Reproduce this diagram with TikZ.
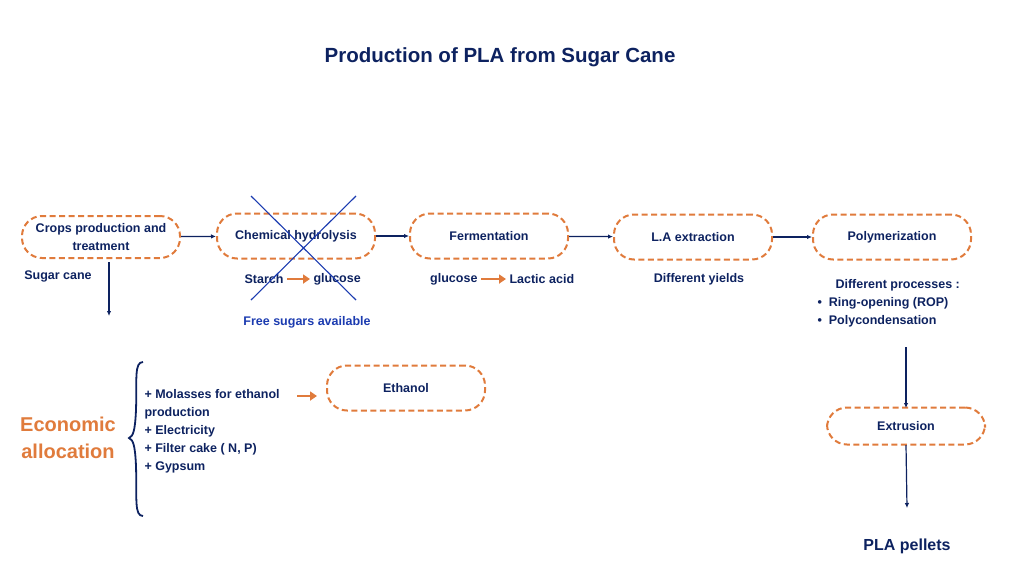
\documentclass[tikz,border=0pt]{standalone}
\usepackage{fontspec}
\setmainfont{Liberation Sans}
\usetikzlibrary{arrows.meta}
\definecolor{navy}{HTML}{0D2260}
\definecolor{org}{HTML}{E07B3C}
\definecolor{blu}{HTML}{1B3BB0}
\begin{document}
\begin{tikzpicture}[x=1pt,y=-1pt,
  proc/.style={draw=org,dashed,dash pattern=on 6pt off 3.5pt,line width=2pt,rounded corners=20pt,minimum width=158pt,minimum height=42pt,align=center,text=navy,font=\fontsize{12.5}{18}\selectfont\bfseries},
  lab/.style={text=navy,font=\fontsize{12.5}{18}\selectfont\bfseries},
  conn/.style={draw=navy,line width=1.2pt,-{Latex[length=5pt,width=4.5pt]}},
  oarr/.style={draw=org,line width=2pt,-{Triangle[length=7pt,width=9pt]}}]
\useasboundingbox (0,0) rectangle (1024,576);
\node[text=navy,font=\fontsize{20.5}{24}\selectfont\bfseries] (title) at (500,57) {Production of PLA from Sugar Cane};
\node[proc] (crops) at (101,237) {Crops production and\\treatment};
\node[proc,minimum height=45pt] (chem) at (296,236) {Chemical hydrolysis};
\node[proc,minimum height=45pt] (ferm) at (489,236) {Fermentation};
\node[proc,minimum height=45pt] (la) at (693,237) {L.A extraction};
\node[proc,minimum height=45pt] (poly) at (892,237) {Polymerization};
\node[proc,minimum height=45pt] (eth) at (406,388) {Ethanol};
\node[proc,minimum height=37pt] (ext) at (906,426) {Extrusion};
\draw[conn] (crops) -- (chem);
\draw[conn] (chem) -- (ferm);
\draw[conn] (ferm) -- (la);
\draw[conn] (la) -- (poly);
\node[lab] (sc) at (58,276) {Sugar cane};
\coordinate (d1) at (109,262); \coordinate (d2) at (109,316);
\draw[conn] (d1) -- (d2);
\node[lab,anchor=east] (starch) at (287,279) {Starch};
\node[lab,anchor=west] (gluc) at (310,279) {glucose};
\draw[oarr] (starch) -- (gluc);
\node[lab,anchor=east] (g2) at (481,279) {glucose};
\node[lab,anchor=west] (lac) at (506,279) {Lactic acid};
\draw[oarr] (g2) -- (lac);
\coordinate (x1) at (251,196); \coordinate (x2) at (356,300);
\coordinate (x3) at (356,196); \coordinate (x4) at (251,300);
\draw[blu,line width=1.1pt] (x1) -- (x2) (x3) -- (x4);
\node[text=blu,font=\fontsize{12.5}{18}\selectfont\bfseries] (free) at (307,322) {Free sugars available};
\node[lab] (yields) at (699,279) {Different yields};
\node[lab,align=left,anchor=north west] (procs) at (814,276) {\hspace*{18pt}Different processes :\\ •\ \ Ring-opening (ROP)\\ •\ \ Polycondensation};
\coordinate (p1) at (906,347); \coordinate (p2) at (906,408);
\draw[conn] (p1) -- (p2);
\coordinate (e1) at (906,445); \coordinate (e2) at (907,508);
\draw[conn] (e1) -- (e2);
\node[text=navy,font=\fontsize{16}{18}\selectfont\bfseries] (pla) at (907,546) {PLA pellets};
\node[text=org,font=\fontsize{20}{27}\selectfont\bfseries,align=center] (econ) at (68,438) {Economic\\allocation};
\coordinate (b1) at (143,362); \coordinate (b2) at (143,516);
\draw[navy,line width=1.8pt] (b1) .. controls (134,362) and (137,380) .. (136,410) .. controls (135,432) and (133,436) .. (129,438) .. controls (133,440) and (135,444) .. (136,466) .. controls (137,498) and (134,516) .. (b2);
\node[lab,align=left,anchor=north west] (list) at (141,386) {+ Molasses for ethanol\\production\\+ Electricity\\+ Filter cake ( N, P)\\+ Gypsum};
\coordinate (o1) at (297,396); \coordinate (o2) at (317,396);
\draw[oarr] (o1) -- (o2);
\end{tikzpicture}
\end{document}
